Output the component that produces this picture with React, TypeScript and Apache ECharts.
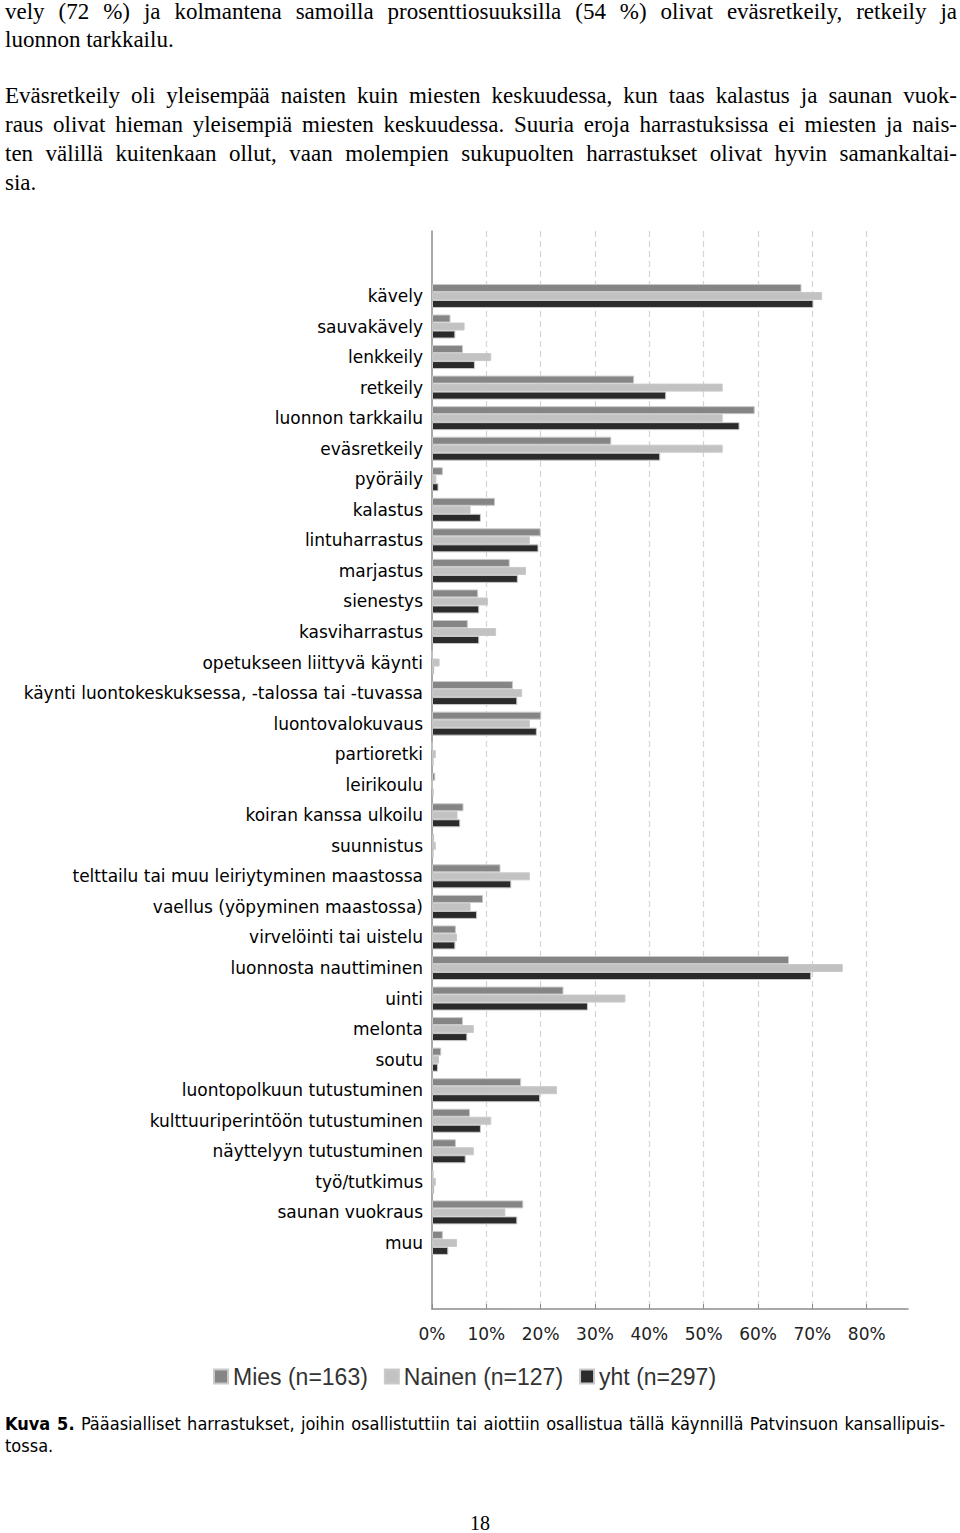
import React, { useEffect, useRef } from "react";
import * as echarts from "echarts";

const categories = [
  "kävely",
  "sauvakävely",
  "lenkkeily",
  "retkeily",
  "luonnon tarkkailu",
  "eväsretkeily",
  "pyöräily",
  "kalastus",
  "lintuharrastus",
  "marjastus",
  "sienestys",
  "kasviharrastus",
  "opetukseen liittyvä käynti",
  "käynti luontokeskuksessa, -talossa tai -tuvassa",
  "luontovalokuvaus",
  "partioretki",
  "leirikoulu",
  "koiran kanssa ulkoilu",
  "suunnistus",
  "telttailu tai muu leiriytyminen maastossa",
  "vaellus (yöpyminen maastossa)",
  "virvelöinti tai uistelu",
  "luonnosta nauttiminen",
  "uinti",
  "melonta",
  "soutu",
  "luontopolkuun tutustuminen",
  "kulttuuriperintöön tutustuminen",
  "näyttelyyn tutustuminen",
  "työ/tutkimus",
  "saunan vuokraus",
  "muu",
];

const mies = [
  68.0, 3.4, 5.7, 37.2, 59.4, 33.0, 2.0, 11.6, 20.0, 14.3, 8.5, 6.6, 0, 14.9,
  20.1, 0, 0.6, 5.8, 0.4, 12.6, 9.4, 4.4, 65.7, 24.2, 5.7, 1.7, 16.4, 7.0, 4.4,
  0.3, 16.8, 2.0,
];
const nainen = [
  71.8, 6.0, 10.9, 53.5, 53.5, 53.5, 0.8, 7.1, 18.0, 17.3, 10.3, 11.8, 1.4, 16.6,
  18.0, 0.7, 0, 4.7, 0.7, 18.0, 7.1, 4.6, 75.6, 35.6, 7.7, 1.3, 23.0, 10.9, 7.7,
  0.7, 13.5, 4.6,
];
const yht = [
  70.2, 4.3, 7.9, 43.1, 56.6, 42.0, 1.2, 9.0, 19.6, 15.8, 8.7, 8.7, 0.4, 15.7,
  19.3, 0.3, 0.3, 5.2, 0.3, 14.6, 8.3, 4.3, 69.8, 28.7, 6.5, 1.1, 19.9, 9.0, 6.2,
  0.4, 15.7, 3.0,
];

const seriesNames = ["Mies (n=163)", "Nainen (n=127)", "yht (n=297)"];
const seriesColors = ["#858585", "#c2c2c2", "#2b2b2b"];
const seriesValues = [mies, nainen, yht];

const proseLines = [
  { text: "vely (72 %) ja kolmantena samoilla prosenttiosuuksilla (54 %) olivat eväsretkeily, retkeily ja", justify: true, top: 0 },
  { text: "luonnon tarkkailu.", justify: false, top: 28 },
  { text: "Eväsretkeily oli yleisempää naisten kuin miesten keskuudessa, kun taas kalastus ja saunan vuok-", justify: true, top: 84 },
  { text: "raus olivat hieman yleisempiä miesten keskuudessa. Suuria eroja harrastuksissa ei miesten ja nais-", justify: true, top: 113 },
  { text: "ten välillä kuitenkaan ollut, vaan molempien sukupuolten harrastukset olivat hyvin samankaltai-", justify: true, top: 142 },
  { text: "sia.", justify: false, top: 171 },
];

export default function App() {
  const ref = useRef<HTMLDivElement>(null);

  useEffect(() => {
    document.body.style.margin = "0";
    if (!ref.current) return;
    const chart = echarts.init(ref.current, null, { renderer: "svg" });
    const axisColor = "#8c8c8c";
    chart.setOption({
      animation: false,
      backgroundColor: "transparent",
      grid: [
        { left: 432, width: 476, top: 231, height: 1078 },
        { left: 432, width: 476, top: 280.7, height: 977.5 },
      ],
      xAxis: [
        {
          gridIndex: 0,
          type: "value",
          min: 0,
          max: 87.6,
          interval: 10,
          axisLine: { show: true, lineStyle: { color: axisColor, width: 1.5 } },
          axisTick: { show: true, inside: true, length: 5, lineStyle: { color: axisColor } },
          splitLine: {
            show: true,
            showMinLine: false,
            showMaxLine: false,
            lineStyle: { type: [6, 4], color: "#d4d4d4", width: 1.2 },
          },
          axisLabel: {
            formatter: "{value}%",
            fontFamily: "DejaVu Sans",
            fontSize: 17,
            color: "#222",
            margin: 16,
            showMaxLabel: false,
          },
        },
        { gridIndex: 1, type: "value", min: 0, max: 87.6, show: false },
      ],
      yAxis: [
        {
          gridIndex: 0,
          type: "value",
          min: 0,
          max: 1,
          axisLine: { show: true, lineStyle: { color: axisColor, width: 1.5 } },
          axisTick: { show: false },
          axisLabel: { show: false },
          splitLine: { show: false },
        },
        {
          gridIndex: 1,
          type: "category",
          data: categories,
          inverse: true,
          axisLine: { show: false },
          axisTick: { show: false },
          splitLine: { show: false },
          axisLabel: {
            fontFamily: "DejaVu Sans",
            fontSize: 17,
            color: "#000",
            margin: 9,
          },
        },
      ],
      legend: {
        data: seriesNames,
        left: 208,
        top: 1360,
        icon: "rect",
        itemWidth: 14,
        itemHeight: 14,
        itemGap: 16,
        textStyle: { fontFamily: "Liberation Sans", fontSize: 23, color: "#333" },
      },
      series: seriesNames.map((name, i) => ({
        name,
        type: "bar",
        xAxisIndex: 1,
        yAxisIndex: 1,
        barWidth: 8,
        barGap: "0%",
        data: seriesValues[i],
        itemStyle: { color: seriesColors[i], borderColor: "#c9c9c9", borderWidth: 1 },
      })),
    });
    return () => chart.dispose();
  }, []);

  return (
    <div style={{ position: "absolute", left: 0, top: 0, width: 960, height: 1533, background: "#fff", overflow: "hidden" }}>
      <div ref={ref} style={{ position: "absolute", left: 0, top: 0, width: 960, height: 1533 }} />
      {proseLines.map((l, i) => (
        <div
          key={i}
          style={{
            position: "absolute",
            left: 5,
            top: l.top,
            width: 952,
            fontFamily: "'Liberation Serif', serif",
            fontSize: 23,
            lineHeight: "23px",
            color: "#000",
            whiteSpace: "nowrap",
            textAlign: l.justify ? "justify" : "left",
            textAlignLast: l.justify ? "justify" : "left",
          }}
        >
          {l.text}
        </div>
      ))}
      <div
        style={{
          position: "absolute",
          left: 5,
          top: 1413,
          width: 940,
          fontFamily: "'Liberation Sans Narrow', 'DejaVu Sans Condensed', sans-serif",
          fontSize: 18,
          lineHeight: "22px",
          color: "#000",
          whiteSpace: "nowrap",
          textAlign: "justify",
          textAlignLast: "justify",
        }}
      >
        <b>Kuva 5.</b> Pääasialliset harrastukset, joihin osallistuttiin tai aiottiin osallistua tällä käynnillä Patvinsuon kansallipuis-
      </div>
      <div
        style={{
          position: "absolute",
          left: 5,
          top: 1435,
          fontFamily: "'Liberation Sans Narrow', 'DejaVu Sans Condensed', sans-serif",
          fontSize: 18,
          lineHeight: "22px",
          color: "#000",
        }}
      >
        tossa.
      </div>
      <div
        style={{
          position: "absolute",
          left: 0,
          top: 1513,
          width: 960,
          textAlign: "center",
          fontFamily: "'Liberation Serif', serif",
          fontSize: 20,
          lineHeight: "20px",
          color: "#000",
        }}
      >
        18
      </div>
    </div>
  );
}
